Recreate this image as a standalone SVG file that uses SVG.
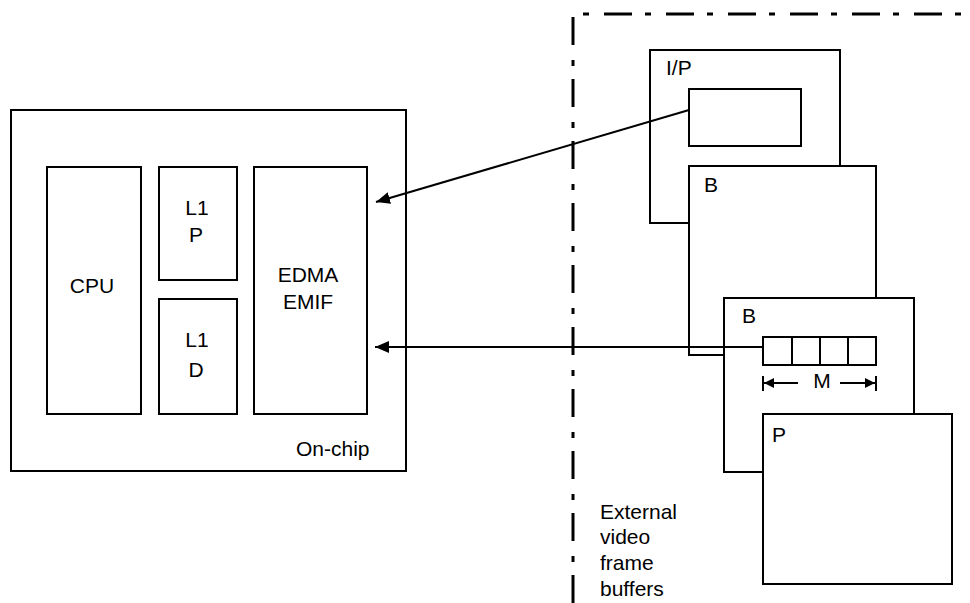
<svg xmlns="http://www.w3.org/2000/svg" width="970" height="603" viewBox="0 0 970 603">
<style>
.box{fill:#fff;stroke:#000;stroke-width:2}
.t{font-family:"Liberation Sans",Arial,sans-serif;font-size:21px;fill:#000}
.c{text-anchor:middle}
.ln{stroke:#000;stroke-width:2;fill:none}
.dd{stroke:#000;stroke-width:3;fill:none;stroke-dasharray:28 13 6 15}
</style>
<defs>
<marker id="ah" viewBox="0 0 14 12" refX="14" refY="6" markerWidth="14" markerHeight="12" markerUnits="userSpaceOnUse" orient="auto">
<path d="M0,0 L14,6 L0,12 Z" fill="#000"/>
</marker>
<marker id="sh" viewBox="0 0 10 10" refX="10" refY="5" markerWidth="10" markerHeight="10" markerUnits="userSpaceOnUse" orient="auto">
<path d="M0,0 L10,5 L0,10 Z" fill="#000"/>
</marker>
</defs>
<rect width="970" height="603" fill="#fff"/>
<g id="boundary">
<path class="dd" d="M573,603 L573,14 L970,14"/>
</g>
<g id="onchip">
<rect class="box" x="11" y="110" width="395" height="361"/>
<text class="t" x="296" y="456">On-chip</text>
</g>
<g id="cpu">
<rect class="box" x="47" y="167" width="94" height="247"/>
<text class="t c" x="92" y="293">CPU</text>
</g>
<g id="l1p">
<rect class="box" x="159" y="167" width="78" height="113"/>
<text class="t c" x="197" y="215">L1</text>
<text class="t c" x="196" y="242">P</text>
</g>
<g id="l1d">
<rect class="box" x="159" y="299" width="78" height="115"/>
<text class="t c" x="197" y="347">L1</text>
<text class="t c" x="196" y="377">D</text>
</g>
<g id="edma">
<rect class="box" x="254" y="167" width="113" height="247"/>
<text class="t c" x="308" y="282">EDMA</text>
<text class="t c" x="308" y="309">EMIF</text>
</g>
<g id="ip">
<rect class="box" x="650" y="50" width="190" height="173"/>
<text class="t" x="666" y="75">I/P</text>
<rect class="box" x="689" y="89" width="112" height="57"/>
</g>
<g id="b1">
<rect class="box" x="689" y="166" width="187" height="189"/>
<text class="t" x="704" y="192">B</text>
</g>
<g id="b2">
<rect class="box" x="724" y="298" width="190" height="174"/>
<text class="t" x="742" y="323">B</text>
<rect class="box" x="763" y="337" width="113" height="28"/>
<path class="ln" d="M792,337 V365 M820,337 V365 M848,337 V365"/>
</g>
<g id="dimension">
<path class="ln" d="M763,376 V391 M876,376 V391"/>
<line class="ln" x1="798" y1="383" x2="764" y2="383" marker-end="url(#sh)"/>
<line class="ln" x1="840" y1="383" x2="875" y2="383" marker-end="url(#sh)"/>
<text class="t c" x="822" y="388">M</text>
</g>
<g id="p">
<rect class="box" x="763" y="414" width="189" height="170"/>
<text class="t" x="772" y="442">P</text>
</g>
<g id="connectors">
<line class="ln" x1="689" y1="110" x2="376" y2="202" marker-end="url(#ah)"/>
<line class="ln" x1="763" y1="347" x2="375" y2="347" marker-end="url(#ah)"/>
</g>
<g id="external">
<text class="t" x="600" y="519">External</text>
<text class="t" x="600" y="544">video</text>
<text class="t" x="600" y="570">frame</text>
<text class="t" x="600" y="596">buffers</text>
</g>
</svg>
